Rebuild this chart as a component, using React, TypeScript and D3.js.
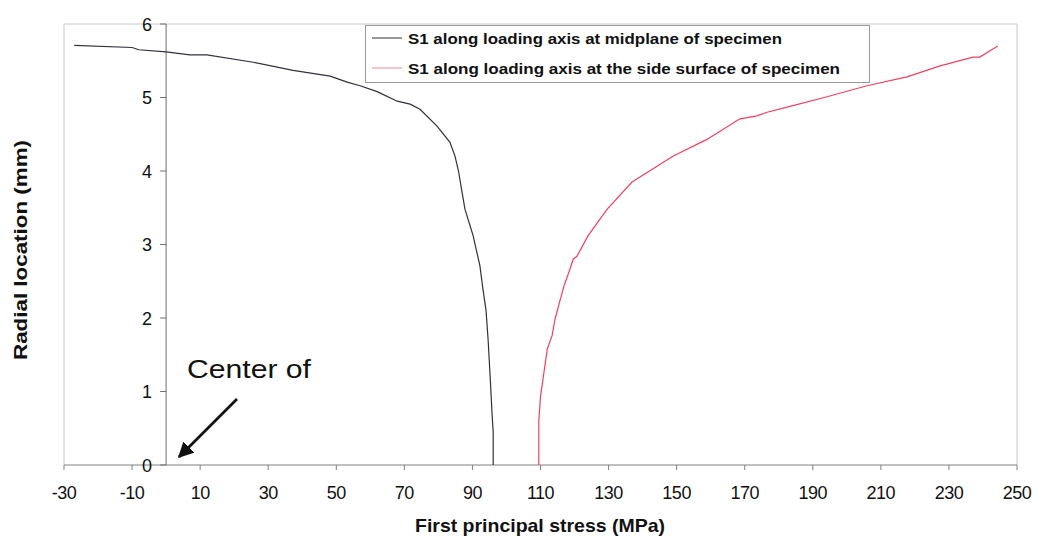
import React from "react";
import * as d3 from "d3";

// S1 along loading axis at the midplane: [stress (MPa), radial location (mm)]
const midplaneStress = [-27, -10, -8, 0, 7, 12, 25.6, 37.3, 48.2, 53.2, 57, 62, 67.9, 71.7, 74.6, 79.6, 83.4, 84.9, 85.9, 86.7, 87.8, 90.2, 92.2, 93.1, 94, 94.6, 95.2, 95.8, 96.1, 96.1];
const midplaneRadius = [5.71, 5.68, 5.65, 5.62, 5.58, 5.58, 5.48, 5.37, 5.29, 5.21, 5.16, 5.08, 4.95, 4.91, 4.84, 4.61, 4.39, 4.2, 4.0, 3.78, 3.48, 3.12, 2.71, 2.39, 2.1, 1.71, 1.21, 0.67, 0.45, 0];

// S1 along loading axis at the side surface
const sideStress = [109.5, 109.5, 110, 112, 113.4, 114.3, 115.5, 117, 118.7, 119.6, 120.7, 124, 129.6, 136.9, 148.9, 158.9, 168.6, 173.6, 176.6, 183.3, 194.2, 205.9, 217.7, 227.4, 237.1, 239.1, 242.9, 244.4];
const sideRadius = [0, 0.6, 0.93, 1.58, 1.76, 1.99, 2.2, 2.45, 2.67, 2.8, 2.84, 3.12, 3.48, 3.85, 4.2, 4.43, 4.71, 4.75, 4.8, 4.88, 5.01, 5.16, 5.28, 5.43, 5.55, 5.55, 5.66, 5.7];

const xTicks = [-30, -10, 10, 30, 50, 70, 90, 110, 130, 150, 170, 190, 210, 230, 250];
const yTicks = [0, 1, 2, 3, 4, 5, 6];

const seriesNames = [
  "S1 along loading axis at midplane of specimen",
  "S1 along loading axis at the side surface of specimen",
];
const seriesColors = ["#30303e", "#f0405e"];
const legendSwatch = ["#333", "#f08a9c"];
const legendTextLength = [374, 432];

const FONT = "'Liberation Sans', Arial, sans-serif";

export default function App() {
  const width = 1038;
  const height = 542;
  const x = d3.scaleLinear().domain([-30, 250]).range([64, 1017]);
  const y = d3.scaleLinear().domain([0, 6]).range([465, 24]);

  const line = d3
    .line<[number, number]>()
    .x((d) => x(d[0]))
    .y((d) => y(d[1]));

  const mid: [number, number][] = midplaneStress.map((s, i) => [s, midplaneRadius[i]]);
  const side: [number, number][] = sideStress.map((s, i) => [s, sideRadius[i]]);

  const x0 = x(0);

  return (
    <svg
      width={width}
      height={height}
      style={{ position: "absolute", left: 0, top: 0, background: "#fff" }}
      fontFamily={FONT}
    >
      {/* plot frame */}
      <path
        d={`M${x(-30)},${y(0)}V${y(6)}H${x(250)}V${y(0)}`}
        fill="none"
        stroke="#c8c8c8"
        strokeWidth={1}
      />

      {/* x axis */}
      <line x1={x(-30)} x2={x(250)} y1={y(0)} y2={y(0)} stroke="#808080" strokeWidth={1} />
      {xTicks.map((t) => (
        <g key={t}>
          <line x1={x(t)} x2={x(t)} y1={y(0)} y2={y(0) + 5} stroke="#808080" />
          <text x={x(t)} y={499} textAnchor="middle" fontSize={18} letterSpacing={-0.5} fill="#111">
            {t}
          </text>
        </g>
      ))}

      {/* y axis at zero stress */}
      <line x1={x0} x2={x0} y1={y(0)} y2={y(6)} stroke="#707070" strokeWidth={1} />
      {yTicks.map((t) => (
        <g key={t}>
          <line x1={x0 - 6} x2={x0} y1={y(t)} y2={y(t)} stroke="#707070" />
          <text x={x0 - 14} y={y(t) + 6.5} textAnchor="end" fontSize={18} fill="#111">
            {t}
          </text>
        </g>
      ))}

      {/* series */}
      <path d={line(mid) ?? ""} fill="none" stroke={seriesColors[0]} strokeWidth={1.2} />
      <path d={line(side) ?? ""} fill="none" stroke={seriesColors[1]} strokeWidth={1.2} />

      {/* legend */}
      <rect x={365.5} y={25.5} width={504} height={57} fill="#fff" stroke="#9a9a9a" strokeWidth={1} />
      {seriesNames.map((name, i) => (
        <g key={name}>
          <line
            x1={372}
            x2={402}
            y1={38 + i * 30}
            y2={38 + i * 30}
            stroke={legendSwatch[i]}
            strokeWidth={1}
          />
          <text
            x={408}
            y={44 + i * 30}
            fontSize={15.5}
            fontWeight="bold"
            fill="#111"
            textLength={legendTextLength[i]}
            lengthAdjust="spacingAndGlyphs"
          >
            {name}
          </text>
        </g>
      ))}

      {/* annotation */}
      <text x={187} y={378} fontSize={25} fill="#111" textLength={124} lengthAdjust="spacingAndGlyphs">
        Center of
      </text>
      <defs>
        <marker
          id="arrowHead"
          viewBox="0 0 10 10"
          refX={9}
          refY={5}
          markerWidth={6}
          markerHeight={6}
          markerUnits="strokeWidth"
          orient="auto"
        >
          <path d="M0,0L10,5L0,10z" fill="#111" />
        </marker>
      </defs>
      <line
        x1={237}
        y1={399}
        x2={179}
        y2={457}
        stroke="#111"
        strokeWidth={2.6}
        markerEnd="url(#arrowHead)"
      />

      {/* axis titles */}
      <text
        x={415}
        y={532}
        fontSize={18.5}
        fontWeight="bold"
        fill="#111"
        textLength={250}
        lengthAdjust="spacingAndGlyphs"
      >
        First principal stress (MPa)
      </text>
      <text
        transform="translate(27,360) rotate(-90)"
        fontSize={18.5}
        fontWeight="bold"
        fill="#111"
        textLength={220}
        lengthAdjust="spacingAndGlyphs"
      >
        Radial location (mm)
      </text>
    </svg>
  );
}
